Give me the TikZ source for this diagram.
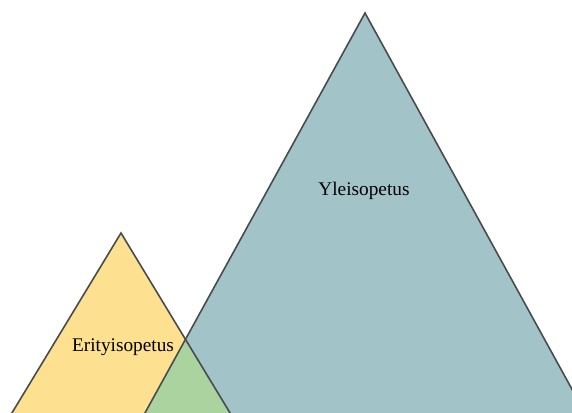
\documentclass[tikz,border=0pt]{standalone}
\usepackage{fontspec}
\setmainfont{Liberation Serif}
\definecolor{yel}{HTML}{FDE090}
\definecolor{blu}{HTML}{A2C3C8}
\definecolor{grn}{HTML}{AAD3A0}
\definecolor{edge}{HTML}{484D4B}
\begin{document}
\begin{tikzpicture}[x=1pt,y=-1pt,
  tri/.style={draw=edge,line width=1.6pt,line join=miter},
  lbl/.style={font=\fontsize{19.3}{21}\selectfont,text=black,inner sep=0pt}]
\useasboundingbox (0,0) rectangle (572,412);
\clip (0,0) rectangle (572,412);
\coordinate (sA) at (121,233);
\coordinate (sL) at (1.6,430);
\coordinate (sR) at (240.4,430);
\coordinate (bA) at (365,13);
\coordinate (bL) at (135.6,430);
\coordinate (bR) at (594.4,430);
\fill[yel] (sA) -- (sL) -- (sR) -- cycle;
\fill[blu] (bA) -- (bL) -- (bR) -- cycle;
\begin{scope}
\clip (sA) -- (sL) -- (sR) -- cycle;
\fill[grn] (bA) -- (bL) -- (bR) -- cycle;
\end{scope}
\draw[tri] (sA) -- (sL) -- (sR) -- cycle;
\draw[tri] (bA) -- (bL) -- (bR) -- cycle;
\node[lbl] (yl) at (364,191) {Yleisopetus};
\node[lbl] (er) at (123,347) {Erityisopetus};
\end{tikzpicture}
\end{document}
